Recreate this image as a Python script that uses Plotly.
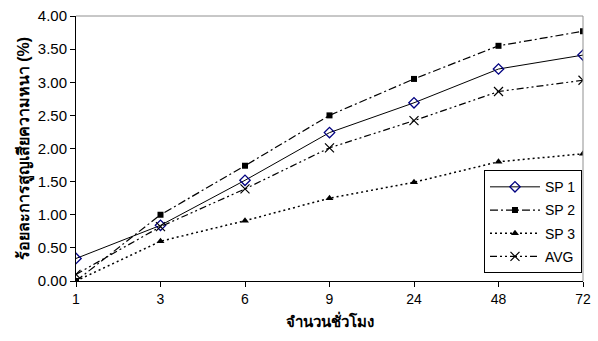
import plotly.graph_objects as go

hours = ["1", "3", "6", "9", "24", "48", "72"]
sp1 = [0.34, 0.84, 1.52, 2.24, 2.69, 3.20, 3.41]
sp2 = [0.00, 1.00, 1.74, 2.50, 3.05, 3.55, 3.77]
sp3 = [0.00, 0.60, 0.91, 1.25, 1.49, 1.80, 1.92]
avg = [0.10, 0.82, 1.39, 2.01, 2.42, 2.86, 3.03]

y_title = "ร้อยละการสูญเสียความหนา (%)"
x_title = "จำนวนชั่วโมง"

FONT = "Liberation Sans, Arial, Noto Sans, sans-serif"

fig = go.Figure()
fig.add_trace(go.Scatter(x=hours, y=sp1, name="SP 1", mode="lines+markers", legendgroup="a",
                         line=dict(color="black", width=1),
                         marker=dict(symbol="diamond-open", size=8, color="#000080",
                                     line=dict(width=1.3, color="#000080"))))
fig.add_trace(go.Scatter(x=hours, y=sp2, name="SP 2", mode="lines+markers", legendgroup="b",
                         line=dict(color="black", width=1.2, dash="8px,3px,2px,3px"),
                         marker=dict(symbol="square", size=6, color="black")))
fig.add_trace(go.Scatter(x=hours, y=sp3, name="SP 3", mode="lines+markers", legendgroup="c",
                         line=dict(color="black", width=1.5, dash="2px,3px"),
                         marker=dict(symbol="triangle-up", size=7, color="black")))
fig.add_trace(go.Scatter(x=hours, y=avg, name="AVG", mode="lines+markers", legendgroup="d",
                         line=dict(color="black", width=1.2, dash="7px,3px,2px,3px,2px,3px"),
                         marker=dict(symbol="x-thin", size=9,
                                     line=dict(width=1.2, color="black"))))

fig.update_layout(
    width=598, height=341,
    margin=dict(l=76, r=7, t=16, b=60),
    paper_bgcolor="white", plot_bgcolor="white",
    font=dict(family=FONT, size=14, color="black"),
    showlegend=True,
    legend=dict(x=0.998, y=0.418, xanchor="right", yanchor="top",
                bgcolor="white", bordercolor="black", borderwidth=1,
                font=dict(size=14), tracegroupgap=2, itemwidth=50),
    xaxis=dict(type="category", range=[0, 6], showline=True, linecolor="black",
               linewidth=1, ticks="outside", ticklen=5, tickcolor="black",
               showgrid=False, zeroline=False, tickfont=dict(size=14),
               title=dict(text="<b>" + x_title + "</b>", font=dict(size=15), standoff=10)),
    yaxis=dict(range=[0, 4], tickvals=[0, 0.5, 1, 1.5, 2, 2.5, 3, 3.5, 4],
               tickformat=".2f", showline=True, linecolor="black", linewidth=1,
               ticks="outside", ticklen=5, tickcolor="black", tickfont=dict(size=15),
               showgrid=False, zeroline=False,
               title=dict(text="<b>" + y_title + "</b>", font=dict(size=16), standoff=4)),
)
# grey plot-area border (top and right)
fig.add_shape(type="line", xref="paper", yref="paper", x0=0, x1=1, y0=1, y1=1,
              line=dict(color="#909090", width=1))
fig.add_shape(type="line", xref="paper", yref="paper", x0=1, x1=1, y0=0, y1=1,
              line=dict(color="#909090", width=1))

fig.write_html("out.html")
